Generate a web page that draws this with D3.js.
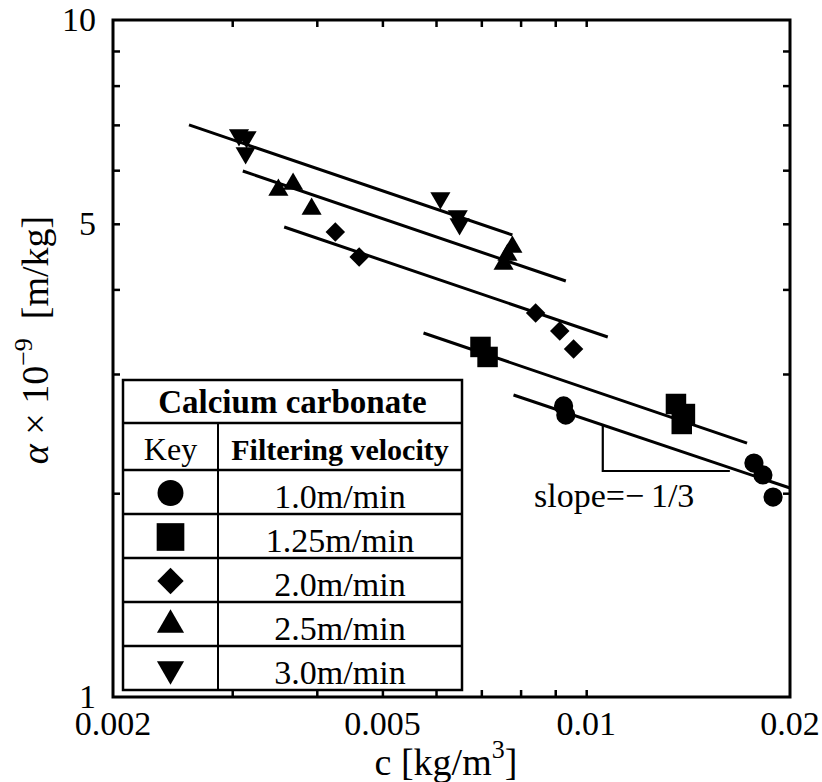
<!DOCTYPE html>
<html>
<head>
<meta charset="utf-8">
<script src="https://cdn.jsdelivr.net/npm/d3@7/dist/d3.min.js"></script>
<style>
  html, body { margin: 0; padding: 0; background: #fff; }
  svg { display: block; }
</style>
</head>
<body>
<svg id="chart" width="822" height="782" font-family="'Liberation Serif', 'Times New Roman', 'DejaVu Serif', serif"></svg>
<script>
// Specific resistance of calcium carbonate cake vs. slurry concentration

// Series labels (filtering velocity) and marker keys
const velocities = ["1.0m/min", "1.25m/min", "2.0m/min", "2.5m/min", "3.0m/min"];
const markerKeys = ["circle", "square", "diamond", "triangleUp", "triangleDown"];

// Measured points: concentration c [kg/m3] and alpha x 1e-9 [m/kg]
const cV10 = [0.00926, 0.00933, 0.01769, 0.01824, 0.01888];
const aV10 = [2.691, 2.609, 2.216, 2.128, 1.974];

const cV125 = [0.00698, 0.00715, 0.01357, 0.01399, 0.01384];
const aV125 = [3.289, 3.179, 2.709, 2.618, 2.531];

const cV20 = [0.00426, 0.00462, 0.00842, 0.00914, 0.00958];
const aV20 = [4.862, 4.467, 3.692, 3.472, 3.266];

const cV25 = [0.00351, 0.00369, 0.00393, 0.00778, 0.00765, 0.00755];
const aV25 = [5.609, 5.725, 5.257, 4.620, 4.496, 4.361];

const cV30 = [0.00307, 0.00315, 0.00314, 0.00609, 0.00646, 0.00650];
const aV30 = [6.763, 6.718, 6.361, 5.459, 5.134, 4.997];

// Fitted lines (slope -1/3): start/end concentration and alpha, one per series
const fitC0 = [0.00781, 0.00575, 0.00358, 0.00311, 0.00259];
const fitA0 = [2.793, 3.449, 4.946, 5.984, 6.998];
const fitC1 = [0.0200, 0.01728, 0.01076, 0.00933, 0.00778];
const fitA1 = [2.036, 2.372, 3.402, 4.116, 4.813];

// Slope triangle corners (c, alpha)
const slopeC = [0.01058, 0.01058, 0.01630];
const slopeA = [2.522, 2.157, 2.157];

// Axis ticks and labels
const xMinorTicks = [0.003, 0.004, 0.005, 0.006, 0.007, 0.008, 0.009, 0.01];
const yMinorTicks = [2, 3, 4, 5, 6, 7, 8, 9];
const xTickLabels = [0.002, 0.005, 0.01, 0.02];
const xTickText = ["0.002", "0.005", "0.01", "0.02"];
const yTickLabels = [1, 5, 10];
const yTickText = ["1", "5", "10"];

const seriesC = [cV10, cV125, cV20, cV25, cV30];
const seriesA = [aV10, aV125, aV20, aV25, aV30];

const FONT = "'Liberation Serif', 'Times New Roman', 'DejaVu Serif', serif";
const svg = d3.select("#chart");
const plotL = 113, plotR = 790, plotT = 20, plotB = 697;

const x = d3.scaleLog().domain([0.002, 0.02]).range([plotL, plotR]);
const y = d3.scaleLog().domain([1, 10]).range([plotB, plotT]);

// Marker path generator
function markerPath(key, big) {
  const s = big ? 1.35 : 1;
  switch (key) {
    case "circle": return d3.symbol(d3.symbolCircle, 290 * s * s)();
    case "square": return d3.symbol(d3.symbolSquare, 420 * s * s)();
    case "diamond": return d3.symbol(d3.symbolSquare, 190 * s * s)();
    case "triangleUp":
    case "triangleDown": return d3.symbol(d3.symbolTriangle, 175 * s * s)();
  }
}
function markerRotate(key) {
  if (key === "diamond") return 45;
  if (key === "triangleDown") return 180;
  return 0;
}

// Axes: inward ticks on all four sides, no labels from the axis itself
const axisG = svg.append("g");
axisG.append("g").attr("transform", `translate(0,${plotB})`)
  .call(d3.axisBottom(x).tickValues(xMinorTicks).tickSize(-7).tickFormat(""));
axisG.append("g").attr("transform", `translate(0,${plotT})`)
  .call(d3.axisTop(x).tickValues(xMinorTicks).tickSize(-7).tickFormat(""));
axisG.append("g").attr("transform", `translate(${plotL},0)`)
  .call(d3.axisLeft(y).tickValues(yMinorTicks).tickSize(-7).tickFormat(""));
axisG.append("g").attr("transform", `translate(${plotR},0)`)
  .call(d3.axisRight(y).tickValues(yMinorTicks).tickSize(-7).tickFormat(""));
axisG.selectAll(".domain").remove();
axisG.selectAll(".tick line").attr("stroke", "#000").attr("stroke-width", 2.5);

// Fitted lines
const plot = svg.append("g");
plot.selectAll("line.fit").data(d3.range(fitC0.length)).enter().append("line")
  .attr("class", "fit")
  .attr("x1", i => x(fitC0[i])).attr("y1", i => y(fitA0[i]))
  .attr("x2", i => x(fitC1[i])).attr("y2", i => y(fitA1[i]))
  .attr("stroke", "#000").attr("stroke-width", 3);

// Slope triangle
plot.append("path")
  .attr("d", d3.line().x(i => x(slopeC[i])).y(i => y(slopeA[i]))([0, 1, 2]))
  .attr("fill", "none").attr("stroke", "#000").attr("stroke-width", 2.2);

// Data markers
seriesC.forEach((cs, si) => {
  const key = markerKeys[si];
  plot.selectAll(null).data(d3.range(cs.length)).enter().append("path")
    .attr("d", markerPath(key, false))
    .attr("transform", i => `translate(${x(cs[i])},${y(seriesA[si][i])}) rotate(${markerRotate(key)})`)
    .attr("fill", "#000");
});

// Frame
svg.append("rect")
  .attr("x", plotL).attr("y", plotT)
  .attr("width", plotR - plotL).attr("height", plotB - plotT)
  .attr("fill", "none").attr("stroke", "#000").attr("stroke-width", 3);

// Text helper: serif font on every text element
function txt(sel) {
  return sel.append("text").attr("font-family", FONT).attr("fill", "#000");
}

// Tick labels
xTickLabels.forEach((d, i) => {
  txt(svg).attr("x", x(d)).attr("y", 735)
    .attr("text-anchor", "middle").attr("font-size", 34)
    .text(xTickText[i]);
});
yTickLabels.forEach((d, i) => {
  txt(svg).attr("x", 96).attr("y", y(d) + 11)
    .attr("text-anchor", "end").attr("font-size", 34)
    .text(yTickText[i]);
});

// Axis titles
const xt = txt(svg).attr("x", 446).attr("y", 775)
  .attr("text-anchor", "middle").attr("font-size", 38);
xt.append("tspan").text("c [kg/m");
xt.append("tspan").attr("font-size", 26).attr("dy", -17).text("3");
xt.append("tspan").attr("dy", 17).text("]");

const yt = txt(svg)
  .attr("transform", "translate(48,340) rotate(-90)")
  .attr("text-anchor", "middle").attr("font-size", 38);
yt.append("tspan").attr("font-style", "italic").text("α");
yt.append("tspan").text(" × 10");
yt.append("tspan").attr("font-size", 26).attr("dy", -16).text("−9");
yt.append("tspan").attr("dy", 16).text("\u00a0\u00a0[m/kg]");

// Slope annotation
txt(svg).attr("x", 534).attr("y", 507)
  .attr("font-size", 34).text("slope=\u2212\u20091/3");

// Legend table
const tL = 123, tR = 462, tT = 380, colX = 218;
const rowEdges = [380, 423, 470, 514, 558, 602, 646, 690];
const leg = svg.append("g");
leg.append("rect").attr("x", tL).attr("y", tT)
  .attr("width", tR - tL).attr("height", rowEdges[rowEdges.length - 1] - tT)
  .attr("fill", "#fff").attr("stroke", "#000").attr("stroke-width", 2.5);
leg.selectAll("line.row").data(rowEdges.slice(1, -1)).enter().append("line")
  .attr("x1", tL).attr("x2", tR).attr("y1", d => d).attr("y2", d => d)
  .attr("stroke", "#000").attr("stroke-width", 2.5);
leg.append("line").attr("x1", colX).attr("x2", colX)
  .attr("y1", rowEdges[1]).attr("y2", rowEdges[rowEdges.length - 1])
  .attr("stroke", "#000").attr("stroke-width", 2);

txt(leg).attr("x", (tL + tR) / 2).attr("y", 413)
  .attr("text-anchor", "middle").attr("font-size", 33).attr("font-weight", "bold")
  .text("Calcium carbonate");
txt(leg).attr("x", (tL + colX) / 2).attr("y", 460)
  .attr("text-anchor", "middle").attr("font-size", 32).text("Key");
txt(leg).attr("x", (colX + tR) / 2).attr("y", 460)
  .attr("text-anchor", "middle").attr("font-size", 30).attr("font-weight", "bold")
  .text("Filtering velocity");

velocities.forEach((v, i) => {
  const y0 = rowEdges[i + 2], y1 = rowEdges[i + 3];
  txt(leg).attr("x", (colX + tR) / 2).attr("y", y1 - 6)
    .attr("text-anchor", "middle").attr("font-size", 34).text(v);
  leg.append("path")
    .attr("d", markerPath(markerKeys[i], true))
    .attr("transform", `translate(${(tL + colX) / 2},${(y0 + y1) / 2 + 1}) rotate(${markerRotate(markerKeys[i])})`)
    .attr("fill", "#000");
});
</script>
</body>
</html>
